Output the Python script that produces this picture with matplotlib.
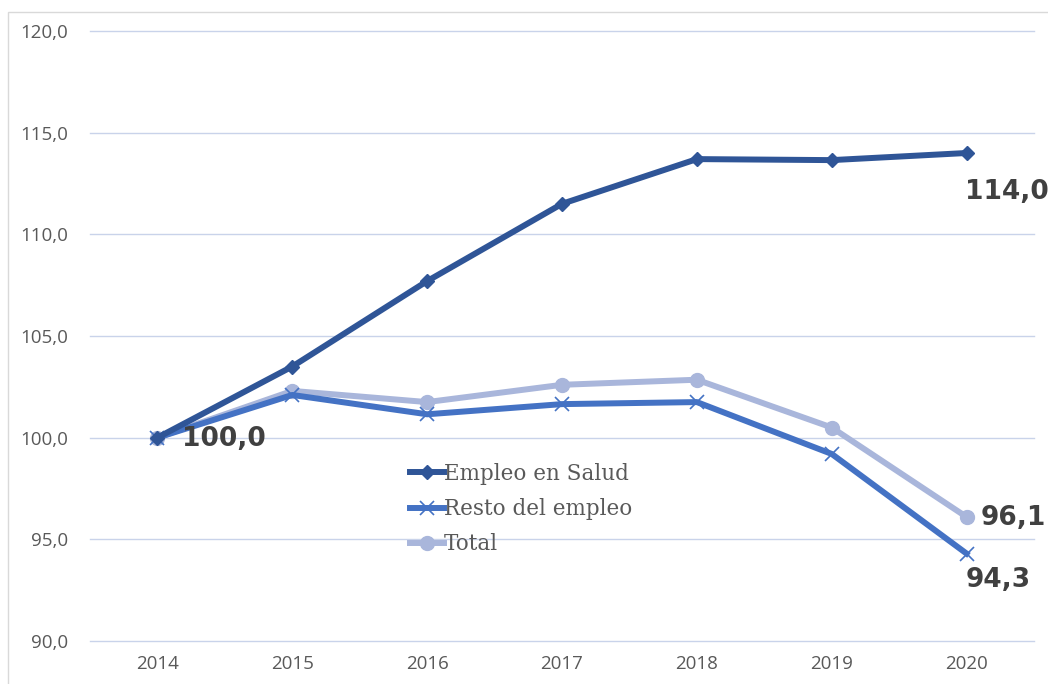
import matplotlib.pyplot as plt
from matplotlib.patches import Rectangle

years = ['2014', '2015', '2016', '2017', '2018', '2019', '2020']
salud = [100.0, 103.5, 107.7, 111.5, 113.7, 113.65, 114.0]
resto = [100.0, 102.1, 101.15, 101.65, 101.75, 99.2, 94.3]
total = [100.0, 102.3, 101.75, 102.6, 102.85, 100.5, 96.1]
yticks = [90, 95, 100, 105, 110, 115, 120]

c_salud = '#2f5597'
c_resto = '#4472c4'
c_total = '#a9b6db'

fig = plt.figure(figsize=(10.48, 6.84), dpi=100)
ax = fig.add_axes([90 / 1048, 1 - 641 / 684, (1034 - 90) / 1048, (641 - 31) / 684])

# outer chart border
fig.patches.append(Rectangle((8 / 1048, -0.05), 1.1, 1 - 12 / 684 + 0.05,
                             transform=fig.transFigure, fill=False,
                             edgecolor='#d9d9d9', lw=1))

x = range(len(years))
ax.plot(x, salud, color=c_salud, lw=4.3, marker='D', ms=7, label='Empleo en Salud', zorder=4)
ax.plot(x, resto, color=c_resto, lw=4.3, marker='x', ms=10, mew=1.2, label='Resto del empleo', zorder=3)
ax.plot(x, total, color=c_total, lw=4.3, marker='o', ms=10, label='Total', zorder=2)

ax.set_xlim(-0.5, len(years) - 0.5)
ax.set_ylim(90, 120)
ax.set_xticks(list(x))
ax.set_xticklabels(years)
ax.set_yticks(yticks)
ax.set_yticklabels([f'{v:.1f}'.replace('.', ',') for v in yticks])
ax.grid(axis='y', color='#c9d3ea', lw=1)
for gl in ax.get_ygridlines():
    gl.set_clip_on(False)
ax.set_axisbelow(True)
for s in ax.spines.values():
    s.set_visible(False)
ax.tick_params(length=0, labelsize=13.5, labelcolor='#595959')
for lbl in ax.get_xticklabels() + ax.get_yticklabels():
    lbl.set_fontfamily('Open Sans')
ax.tick_params(axis='x', pad=10)
ax.tick_params(axis='y', pad=16)

lab = dict(fontsize=19, fontweight='bold', color='#404040', family='DejaVu Sans',
           textcoords='offset points', va='center', ha='left')
ax.annotate('100,0', (0, salud[0]), xytext=(18, -1), **lab)
ax.annotate('114,0', (6, salud[-1]), xytext=(-1, -28), **lab)
ax.annotate('96,1', (6, total[-1]), xytext=(10, -1), **lab)
ax.annotate('94,3', (6, resto[-1]), xytext=(-1, -19), **lab)

leg = ax.legend(loc='upper left', bbox_to_anchor=(309 / 944, 1 - 421 / 610),
                frameon=False, prop={'family': 'DejaVu Serif', 'size': 15.5},
                handlelength=1.6, handletextpad=0.0, labelspacing=0.62, borderpad=0)
for t in leg.get_texts():
    t.set_color('#595959')

fig.savefig('out.png', dpi=100)
